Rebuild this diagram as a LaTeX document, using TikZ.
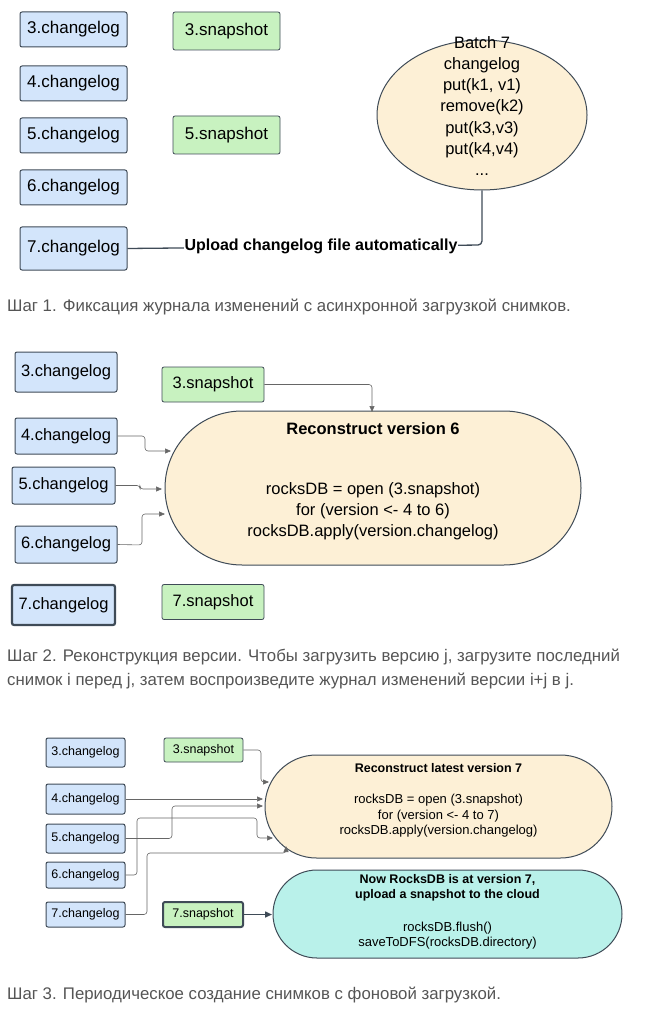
\documentclass[tikz,border=0pt]{standalone}
\usepackage{fontspec}
\setmainfont{Liberation Sans}
\usetikzlibrary{shapes.geometric,shapes.misc,arrows.meta}
\definecolor{clfill}{HTML}{D3E5FB}
\definecolor{snfill}{HTML}{C8F2C0}
\definecolor{bord}{HTML}{3F4B57}
\definecolor{cream}{HTML}{FDF0D6}
\definecolor{cyanf}{HTML}{B9F1EA}
\definecolor{capc}{HTML}{555555}
\begin{document}
\begin{tikzpicture}[x=1pt,y=-1pt,
 cl/.style={draw=bord,line width=1pt,fill=clfill,rounded corners=2pt,inner sep=0pt},
 sn/.style={draw=bord,line width=0.8pt,fill=snfill,rounded corners=2pt,inner sep=0pt},
 ar/.style={draw=gray!80!black,line width=0.6pt,-{Triangle[length=6pt,width=5pt]},rounded corners=3pt},
 captext/.style={anchor=west,text=capc,font=\fontsize{16.8}{19}\selectfont,inner sep=0pt,align=left}]
\useasboundingbox (0,0) rectangle (649,1024);
% ---------- Part 1
\begin{scope}[every node/.append style={font=\fontsize{17}{20}\selectfont}]
\node[cl,minimum width=107,minimum height=35] (a3) at (73.5,29.5) {3.changelog};
\node[cl,minimum width=107,minimum height=35] (a4) at (73.5,83.5) {4.changelog};
\node[cl,minimum width=107,minimum height=35] (a5) at (73.5,135.5) {5.changelog};
\node[cl,minimum width=107,minimum height=35] (a6) at (73.5,187.5) {6.changelog};
\node[cl,minimum width=107,minimum height=43] (a7) at (73.5,248.5) {7.changelog};
\node[sn,minimum width=107,minimum height=38] (as3) at (226.5,31) {3.snapshot};
\node[sn,minimum width=107,minimum height=38] (as5) at (226.5,135) {5.snapshot};
\end{scope}
\node[ellipse,draw=bord,line width=1pt,fill=cream,minimum width=210,minimum height=150,inner sep=0pt] (batch) at (482,115) {};
\node[align=center,font=\fontsize{16.5}{21.3}\selectfont] (batcht) at (482,106)
 {Batch 7\\changelog\\put(k1, v1)\\remove(k2)\\put(k3,v3)\\put(k4,v4)\\...};
\coordinate (up) at (482,245);
\draw[bord,line width=1.3pt,rounded corners=4pt] (a7.east) -- (up) -- (batch.south);
\node[fill=white,inner sep=1pt,font=\bfseries\fontsize{16}{18}\selectfont] (ulab) at (321,246) {Upload changelog file automatically};
\node[captext] (c1) at (7,307) {Шаг 1. Фиксация журнала изменений с асинхронной загрузкой снимков.};
% ---------- Part 2
\begin{scope}[every node/.append style={font=\fontsize{16.5}{20}\selectfont}]
\node[cl,minimum width=102,minimum height=40] (b3) at (66,372) {3.changelog};
\node[cl,minimum width=102,minimum height=36] (b4) at (66,436) {4.changelog};
\node[cl,minimum width=103,minimum height=37] (b5) at (63.5,485.5) {5.changelog};
\node[cl,minimum width=102,minimum height=37] (b6) at (66,544.5) {6.changelog};
\node[cl,line width=2.2pt,minimum width=103,minimum height=40] (b7) at (63.5,605) {7.changelog};
\node[sn,minimum width=102,minimum height=35] (bs3) at (213,384.5) {3.snapshot};
\node[sn,minimum width=102,minimum height=35] (bs7) at (213,602) {7.snapshot};
\end{scope}
\node[rounded rectangle,draw=bord,line width=1pt,fill=cream,minimum width=416,minimum height=154,inner sep=0pt] (r6) at (373,488) {};
\node[font=\bfseries\fontsize{16.5}{19}\selectfont] (r6t) at (373,429) {Reconstruct version 6};
\node[align=center,font=\fontsize{16.5}{21}\selectfont] (r6b) at (373,511) {rocksDB = open (3.snapshot)\\for (version <- 4 to 6)\\rocksDB.apply(version.changelog)};
\draw[ar] (bs3.east) -- (372,384.5) -- (372,412);
\draw[ar] (b4.east) -- (145,436) -- (145,451) -- (171,451);
\draw[ar] (b5.east) -- (140,485.5) -- (140,489) -- (162,489);
\draw[ar] (b6.east) -- (142,545) -- (142,514) -- (165,514);
\node[captext] (c2) at (7,657) {Шаг 2. Реконструкция версии. Чтобы загрузить версию j, загрузите последний};
\node[captext] (c2b) at (7,681) {снимок i перед j, затем воспроизведите журнал изменений версии i+j в j.};
% ---------- Part 3
\begin{scope}[every node/.append style={font=\fontsize{12.5}{15}\selectfont}]
\node[cl,minimum width=79,minimum height=29] (d3) at (85.5,752.5) {3.changelog};
\node[cl,minimum width=79,minimum height=30] (d4) at (85.5,799) {4.changelog};
\node[cl,minimum width=79,minimum height=29] (d5) at (85.5,838.5) {5.changelog};
\node[cl,minimum width=79,minimum height=26] (d6) at (85.5,875) {6.changelog};
\node[cl,minimum width=79,minimum height=25] (d7) at (85.5,914.5) {7.changelog};
\node[sn,minimum width=79,minimum height=24] (ds3) at (203.5,750) {3.snapshot};
\node[sn,line width=2pt,minimum width=80,minimum height=25] (ds7) at (203,914.5) {7.snapshot};
\end{scope}
\node[rounded rectangle,draw=bord,line width=1pt,fill=cream,minimum width=347,minimum height=103,inner sep=0pt] (r7) at (438.5,806.5) {};
\node[font=\bfseries\fontsize{12.5}{15}\selectfont] (r7t) at (438.5,768) {Reconstruct latest version 7};
\node[align=center,font=\fontsize{13}{15.5}\selectfont] (r7b) at (438.5,816) {rocksDB = open (3.snapshot)\\for (version <- 4 to 7)\\rocksDB.apply(version.changelog)};
\node[rounded rectangle,draw=bord,line width=1pt,fill=cyanf,minimum width=349,minimum height=88,inner sep=0pt] (r8) at (447.5,914) {};
\node[align=center,font=\bfseries\fontsize{12.5}{14.5}\selectfont] (r8t) at (447.5,888) {Now RocksDB is at version 7,\\upload a snapshot to the cloud};
\node[align=center,font=\fontsize{13}{15}\selectfont] (r8b) at (447.5,935.5) {rocksDB.flush()\\saveToDFS(rocksDB.directory)};
\draw[ar] (ds3.east) -- (261,750) -- (261,782) -- (269,782);
\draw[ar] (d4.east) -- (263,799);
\draw[ar] (d5.east) -- (172,838.5) -- (172,806) -- (263,806);
\draw[ar] (d6.east) -- (137,875) -- (137,818) -- (257,818) -- (257,838) -- (273,838);
\draw[ar] (d7.east) -- (147,914.5) -- (147,853) -- (286,853) -- (286,846);
\draw[bord,line width=1.5pt,-{Triangle[length=7pt,width=6pt]}] (ds7.east) -- (272,914.5);
\node[captext] (c3) at (7,995) {Шаг 3. Периодическое создание снимков с фоновой загрузкой.};
\end{tikzpicture}
\end{document}
